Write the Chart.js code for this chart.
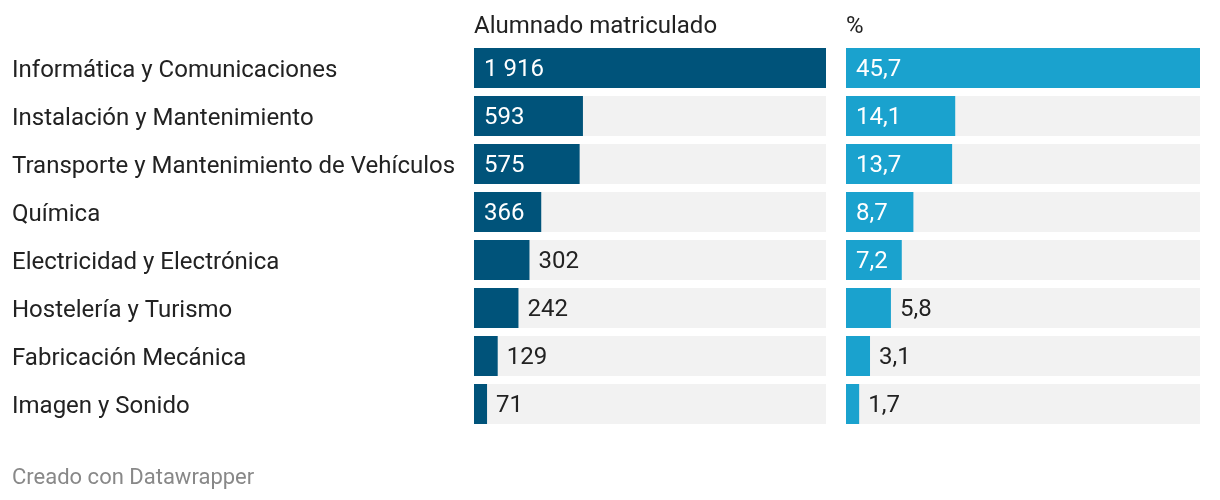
<!DOCTYPE html>
<html>
<head>
<meta charset="utf-8">
<script src="https://cdn.jsdelivr.net/npm/chart.js@4"></script>
<style>
  body { margin: 0; background: #fff; width: 1220px; height: 500px; position: relative; overflow: hidden; }
  canvas { position: absolute; top: 0; }
  #c1 { left: 0; }
  #c2 { left: 836px; }
  #foot { position: absolute; left: 12px; top: 464px; font: 22px Roboto, sans-serif; color: #888; }
</style>
</head>
<body>
<canvas id="c1" width="830" height="500" style="width:830px;height:500px"></canvas>
<canvas id="c2" width="384" height="500" style="width:384px;height:500px"></canvas>
<div id="foot">Creado con Datawrapper</div>
<script>
const familias = ['Informática y Comunicaciones', 'Instalación y Mantenimiento', 'Transporte y Mantenimiento de Vehículos',
    'Química', 'Electricidad y Electrónica', 'Hostelería y Turismo', 'Fabricación Mecánica', 'Imagen y Sonido'];
const alumnado = [1916, 593, 575, 366, 302, 242, 129, 71];
const porcentaje = [45.7, 14.1, 13.7, 8.7, 7.2, 5.8, 3.1, 1.7];

const FONT = '24px Roboto, sans-serif';

function fmtNum(v) {
    return String(v).replace(/\B(?=(\d{3})+(?!\d))/g, ' ');
}
function fmtPct(v) {
    return v.toFixed(1).replace('.', ',');
}

// etiquetas de valor + cabecera
function labelsPlugin(title, fmt) {
    return {
        id: 'etiquetas',
        afterDatasetsDraw(chart) {
            const ctx = chart.ctx;
            const area = chart.chartArea;
            ctx.save();
            ctx.font = FONT;
            ctx.textBaseline = 'middle';
            ctx.textAlign = 'left';
            ctx.fillStyle = '#222';
            ctx.fillText(title, area.left, 27);
            const meta = chart.getDatasetMeta(0);
            meta.data.forEach((bar, i) => {
                const txt = fmt(chart.data.datasets[0].data[i]);
                const w = ctx.measureText(txt).width;
                const barW = bar.x - bar.base;
                if (barW >= w + 20) {
                    ctx.fillStyle = '#fff';
                    ctx.fillText(txt, bar.base + 10, bar.y + 2);
                } else {
                    ctx.fillStyle = '#222';
                    ctx.fillText(txt, bar.x + 9, bar.y + 2);
                }
            });
            ctx.restore();
        }
    };
}

function makeChart(id, values, color, fmt, title, showLabels, pad) {
    const maxV = Math.max(...values);
    return new Chart(document.getElementById(id), {
        type: 'bar',
        data: {
            labels: familias,
            datasets: [
                { data: values, backgroundColor: color, order: 0 },
                { data: values.map(() => maxV), backgroundColor: '#f2f2f2', order: 1 }
            ]
        },
        options: {
            indexAxis: 'y',
            responsive: false,
            animation: false,
            events: [],
            layout: { padding: pad },
            datasets: { bar: { grouped: false, barPercentage: 40 / 48, categoryPercentage: 1, borderWidth: 0 } },
            scales: {
                x: { display: false, min: 0, max: maxV },
                y: {
                    display: showLabels,
                    grid: { display: false },
                    border: { display: false },
                    ticks: { font: { family: 'Roboto', size: 24 }, color: '#222', crossAlign: 'far', padding: 0, labelOffset: 2.5 },
                    afterFit(scale) { if (showLabels) scale.width = 462; }
                }
            },
            plugins: { legend: { display: false }, tooltip: { enabled: false } }
        },
        plugins: [labelsPlugin(title, fmt)]
    });
}

makeChart('c1', alumnado, '#00537a', fmtNum, 'Alumnado matriculado', true,
    { left: 12, right: 4, top: 44, bottom: 72 });
makeChart('c2', porcentaje, '#1aa2ce', fmtPct, '%', false,
    { left: 10, right: 20, top: 44, bottom: 72 });
</script>
</body>
</html>
